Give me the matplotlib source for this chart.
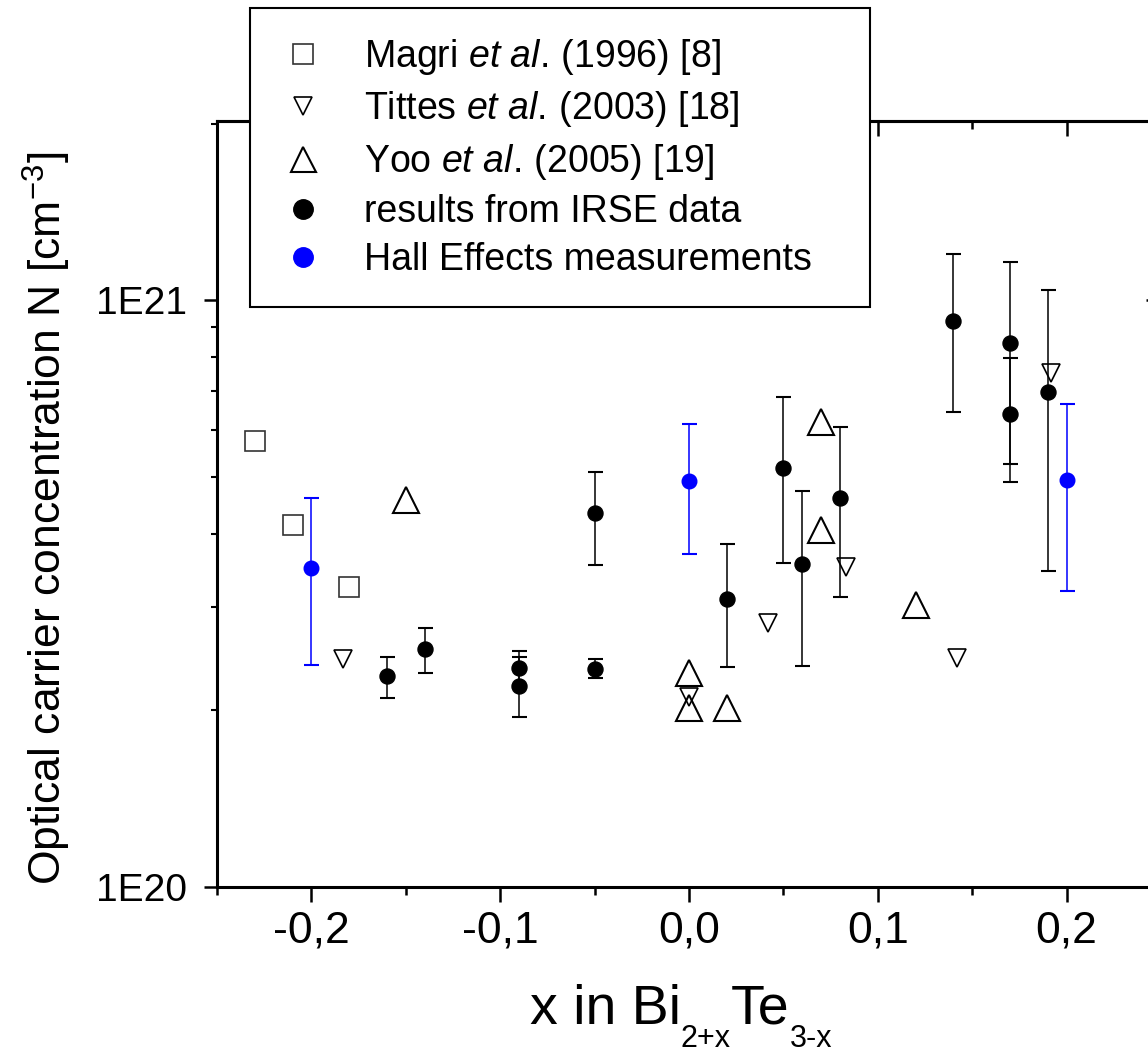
import numpy as np
import matplotlib
matplotlib.use('Agg')
import matplotlib.pyplot as plt
from matplotlib.lines import Line2D
from matplotlib.ticker import MultipleLocator, FuncFormatter, LogLocator, NullFormatter, FixedLocator

plt.rcParams['font.family'] = ['Liberation Sans', 'DejaVu Sans']
plt.rcParams['mathtext.fontset'] = 'custom'
plt.rcParams['mathtext.rm'] = 'Liberation Sans'
plt.rcParams['mathtext.it'] = 'Liberation Sans:italic'

# Magri et al. (1996)
magri_x = [-0.23, -0.21, -0.18]
magri_n = [5.75e20, 4.14e20, 3.24e20]

# Tittes et al. (2003)
tittes_x = [-0.183, 0.0, 0.042, 0.083, 0.142, 0.192]
tittes_n = [2.45e20, 2.11e20, 2.82e20, 3.51e20, 2.46e20, 7.52e20]

# Yoo et al. (2005)
yoo_x = [-0.15, 0.0, 0.0, 0.02, 0.07, 0.07, 0.12]
yoo_n = [4.56e20, 2.32e20, 2.02e20, 2.02e20, 6.2e20, 4.06e20, 3.02e20]

# IRSE results with error bar limits
irse_x = [-0.16, -0.14, -0.09, -0.09, -0.05, -0.05, 0.02, 0.05, 0.06, 0.08, 0.14, 0.17, 0.17, 0.19]
irse_n = [2.29e20, 2.54e20, 2.36e20, 2.20e20, 4.33e20, 2.35e20, 3.10e20, 5.17e20, 3.55e20, 4.60e20,
          9.21e20, 8.46e20, 6.41e20, 6.97e20]
irse_hi = [2.47e20, 2.76e20, 2.52e20, 2.47e20, 5.09e20, 2.45e20, 3.84e20, 6.84e20, 4.73e20, 6.08e20,
           1.20e21, 1.16e21, 7.96e20, 1.04e21]
irse_lo = [2.10e20, 2.32e20, 2.20e20, 1.95e20, 3.54e20, 2.27e20, 2.37e20, 3.57e20, 2.38e20, 3.12e20,
           6.44e20, 5.26e20, 4.90e20, 3.45e20]

# Hall effect measurements
hall_x = [-0.2, 0.0, 0.2]
hall_n = [3.49e20, 4.92e20, 4.93e20]
hall_hi = [4.61e20, 6.15e20, 6.65e20]
hall_lo = [2.39e20, 3.69e20, 3.19e20]

legend_labels = [r'$\mathrm{Magri}\ \mathit{et\ al.}\,\mathrm{(1996)\ [8]}$',
                 r'$\mathrm{Tittes}\ \mathit{et\ al.}\,\mathrm{(2003)\ [18]}$',
                 r'$\mathrm{Yoo}\ \mathit{et\ al.}\,\mathrm{(2005)\ [19]}$',
                 'results from IRSE data',
                 'Hall Effects measurements']

W, H = 1148, 1056
fig = plt.figure(figsize=(W / 100, H / 100), dpi=100)
ax = fig.add_axes([217 / W, 169 / H, 944 / W, 766 / H])

def yerr(n, lo, hi):
    n, lo, hi = np.array(n), np.array(lo), np.array(hi)
    return [n - lo, hi - n]

ax.errorbar(irse_x, irse_n, yerr=yerr(irse_n, irse_lo, irse_hi), fmt='o', color='black', ms=10.8,
            elinewidth=1.1, capsize=5.4, capthick=1.5, zorder=3)
ax.errorbar(hall_x, hall_n, yerr=yerr(hall_n, hall_lo, hall_hi), fmt='o', color='blue', ms=10.5,
            elinewidth=1.1, capsize=5.4, capthick=1.5, zorder=3)
ax.plot(magri_x, magri_n, ls='none', marker='s', ms=14, mfc='none', mec='#333333', mew=1.2, zorder=2)
ax.plot(tittes_x, tittes_n, ls='none', marker='v', ms=12.5, mfc='none', mec='black', mew=1.2, zorder=2)
ax.plot(yoo_x, yoo_n, ls='none', marker='^', ms=18.5, mfc='none', mec='black', mew=1.5, zorder=2)

ax.set_yscale('log')
ax.set_ylim(1e20, 2.02e21)
ax.set_xlim(-0.25, 0.25)

ax.xaxis.set_major_locator(MultipleLocator(0.1))
ax.xaxis.set_minor_locator(MultipleLocator(0.05))
ax.xaxis.set_major_formatter(FuncFormatter(lambda v, p: ('%.1f' % (round(v, 2) + 0.0)).replace('.', ',')))
ax.yaxis.set_major_locator(FixedLocator([1e20, 1e21]))
ax.yaxis.set_major_formatter(FuncFormatter(lambda v, p: '1E%d' % round(np.log10(v))))
ax.yaxis.set_minor_locator(LogLocator(base=10, subs=np.arange(2, 10)))
ax.yaxis.set_minor_formatter(NullFormatter())

for s in ax.spines.values():
    s.set_linewidth(2.2)

ax.tick_params(axis='x', which='major', direction='out', length=10.8, width=1.8, labelsize=32, pad=6, top=False)
ax.tick_params(axis='x', which='minor', direction='out', length=5.8, width=1.8, top=False)
ax.tick_params(axis='y', which='major', direction='out', length=9.4, width=1.8, labelsize=28, pad=12, right=False)
ax.tick_params(axis='y', which='minor', direction='out', length=4.5, width=1.5, right=False)

# mirrored inward ticks on top and right
top = ax.secondary_xaxis('top')
top.xaxis.set_major_locator(MultipleLocator(0.1))
top.xaxis.set_minor_locator(MultipleLocator(0.05))
top.tick_params(axis='x', which='major', direction='in', length=10.8, width=1.8, labeltop=False)
top.tick_params(axis='x', which='minor', direction='in', length=5.8, width=1.8, labeltop=False)
top.spines['top'].set_linewidth(2.2)
right = ax.secondary_yaxis('right')
right.tick_params(axis='y', which='major', direction='in', length=10.8, width=1.8, labelright=False)
right.tick_params(axis='y', which='minor', direction='in', length=5.8, width=1.5, labelright=False)

handles = [
    Line2D([], [], ls='none', marker='s', ms=15, mfc='none', mec='#333333', mew=1.2),
    Line2D([], [], ls='none', marker='v', ms=13, mfc='none', mec='black', mew=1.2),
    Line2D([], [], ls='none', marker='^', ms=18, mfc='none', mec='black', mew=1.5),
    Line2D([], [], ls='none', marker='o', ms=14, color='black'),
    Line2D([], [], ls='none', marker='o', ms=14, color='blue'),
]
leg = fig.legend(handles, legend_labels, loc='upper left',
                 bbox_to_anchor=(250 / W, 1 - 8 / H, 620 / W, 0.0), mode='expand',
                 fontsize=27, frameon=True, fancybox=False, framealpha=1, edgecolor='black',
                 borderpad=0.77, handlelength=1.28, handletextpad=1.0, labelspacing=0.33,
                 borderaxespad=0)
leg.get_frame().set_linewidth(1.5)

fig.text(47 / W, 1 - 518 / H, r'Optical carrier concentration N [cm$^{\mathregular{-3}}$]',
         rotation=90, ha='center', va='center', fontsize=32)

# x label with small, lowered subscripts
renderer = fig.canvas.get_renderer()
x_px = 530
for txt, size, base in [('x in Bi', 40, 1024), ('2+x', 22, 1047), ('Te', 40, 1024), ('3-x', 22, 1047)]:
    t = fig.text(x_px / W, 1 - base / H, txt, fontsize=size, ha='left', va='baseline')
    x_px = t.get_window_extent(renderer).x1

fig.savefig('out.png', dpi=100)
